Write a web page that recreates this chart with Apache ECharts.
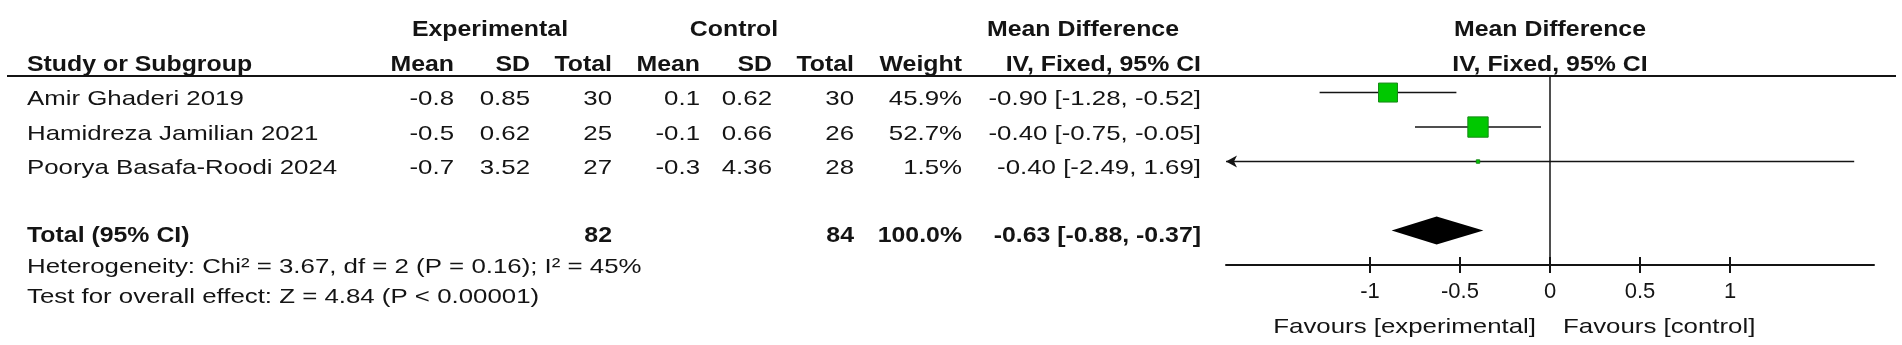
<!DOCTYPE html>
<html>
<head>
<meta charset="utf-8">
<style>
  html, body { margin: 0; padding: 0; background: #fff; }
  #main { width: 1902px; height: 345px; }
</style>
<script src="https://cdn.jsdelivr.net/npm/echarts@6/dist/echarts.min.js"></script>
</head>
<body>
<div id="main"></div>
<script>
// study rows
const studies = ['Amir Ghaderi 2019', 'Hamidreza Jamilian 2021', 'Poorya Basafa-Roodi 2024'];
const expMean = [-0.8, -0.5, -0.7];
const expSD = [0.85, 0.62, 3.52];
const expN = [30, 25, 27];
const ctlMean = [0.1, -0.1, -0.3];
const ctlSD = [0.62, 0.66, 4.36];
const ctlN = [30, 26, 28];
const weight = [45.9, 52.7, 1.5];
const md = [-0.90, -0.40, -0.40];
const ciLow = [-1.28, -0.75, -2.49];
const ciHigh = [-0.52, -0.05, 1.69];

// pooled
const totalExpN = 82;
const totalCtlN = 84;
const totalWeight = 100.0;
const totalMd = -0.63;
const totalLow = -0.88;
const totalHigh = -0.37;

const xTicks = [-1, -0.5, 0, 0.5, 1];
const heterogeneity = 'Heterogeneity: Chi\u00b2 = 3.67, df = 2 (P = 0.16); I\u00b2 = 45%';
const overallEffect = 'Test for overall effect: Z = 4.84 (P < 0.00001)';

const X_MIN = -1.8, X_MAX = 1.8;
const TOTAL_ROW = 4;
const FONT = "'Liberation Sans', Arial, sans-serif";
const INK = '#141414';

let chart = echarts.init(document.getElementById('main'));

function fmtCI(m, lo, hi) {
  return m.toFixed(2) + ' [' + lo.toFixed(2) + ', ' + hi.toFixed(2) + ']';
}

function arrowHead(x, y, dir) {
  return {
    type: 'polygon',
    shape: { points: [[x, y], [x + dir * 11, y - 6], [x + dir * 8, y], [x + dir * 11, y + 6]] },
    style: { fill: INK }
  };
}

function renderStudy(params, api) {
  let lo = api.value(0), hi = api.value(1), m = api.value(2), row = api.value(3), w = api.value(4);
  let left = api.coord([Math.max(lo, X_MIN), row]);
  let right = api.coord([Math.min(hi, X_MAX), row]);
  let c = api.coord([m, row]);
  let s = 2.8 * Math.sqrt(w);
  let children = [
    { type: 'line', shape: { x1: left[0], y1: left[1], x2: right[0], y2: right[1] },
      style: { stroke: INK, lineWidth: 1.5 } },
    { type: 'rect', shape: { x: c[0] - s / 2, y: c[1] - s / 2, width: s, height: s },
      style: { fill: '#00c800', stroke: '#168a16', lineWidth: 1 } }
  ];
  if (lo < X_MIN) children.push(arrowHead(left[0], left[1], 1));
  if (hi > X_MAX) children.push(arrowHead(right[0], right[1], -1));
  return { type: 'group', children: children };
}

function renderDiamond(params, api) {
  let row = api.value(3);
  let l = api.coord([api.value(0), row]);
  let r = api.coord([api.value(1), row]);
  let c = api.coord([api.value(2), row]);
  let h = 14;
  return {
    type: 'polygon',
    shape: { points: [[l[0], l[1]], [c[0], c[1] - h], [r[0], r[1]], [c[0], c[1] + h]] },
    style: { fill: '#000' }
  };
}

let studyData = studies.map((s, i) => [ciLow[i], ciHigh[i], md[i], i, weight[i]]);

chart.setOption({
  animation: false,
  backgroundColor: '#fff',
  grid: { left: 1226, right: 28, top: 76, bottom: 80 },
  xAxis: [
    {
      type: 'value', min: X_MIN, max: X_MAX, position: 'bottom',
      splitLine: { show: false },
      axisLine: { onZero: false, lineStyle: { color: INK, width: 2 } },
      axisTick: { show: true, length: 8, customValues: xTicks, lineStyle: { color: INK, width: 2 } },
      axisLabel: { customValues: xTicks, fontSize: 22, fontFamily: FONT, color: INK, margin: 16 }
    },
    {
      type: 'value', min: X_MIN, max: X_MAX, position: 'bottom',
      splitLine: { show: false },
      axisLine: { show: false, onZero: false },
      axisTick: { show: true, inside: true, length: 8, customValues: xTicks, lineStyle: { color: INK, width: 2 } },
      axisLabel: { show: false }
    }
  ],
  yAxis: {
    type: 'value', min: -0.48, max: 5, inverse: true,
    splitLine: { show: false },
    axisLine: { show: true, onZero: true, lineStyle: { color: INK, width: 1.5 } },
    axisTick: { show: false },
    axisLabel: { show: false }
  },
  series: [
    { type: 'custom', renderItem: renderStudy, data: studyData, encode: { x: [0, 1, 2], y: 3 } },
    { type: 'custom', renderItem: renderDiamond,
      data: [[totalLow, totalHigh, totalMd, TOTAL_ROW]], encode: { x: [0, 1, 2], y: 3 } }
  ]
});

// table text, placed on the same rows as the plot
function txt(str, x, y, align, bold) {
  return {
    type: 'text', x: x, y: y, scaleX: bold ? 1.13 : 1.23, silent: true,
    style: {
      text: str, x: 0, y: 0,
      align: align, textAlign: align, verticalAlign: 'middle', textVerticalAlign: 'middle',
      fontFamily: FONT, fontSize: bold ? 22 : 21, fontWeight: bold ? 'bold' : 'normal',
      fill: INK
    }
  };
}

let x0 = chart.convertToPixel({ xAxisIndex: 0 }, 0);
function rowY(r) { return chart.convertToPixel({ yAxisIndex: 0 }, r) + 7; }

let col = { name: 27, expMean: 454, expSD: 530, expN: 612, ctlMean: 700, ctlSD: 772, ctlN: 854, weight: 962, ci: 1201 };
let g = [];

// headers
g.push(txt('Experimental', 490, 30, 'center', true));
g.push(txt('Control', 734, 30, 'center', true));
g.push(txt('Mean Difference', 1083, 30, 'center', true));
g.push(txt('Mean Difference', x0, 30, 'center', true));
g.push(txt('Study or Subgroup', col.name, 65, 'left', true));
g.push(txt('Mean', col.expMean, 65, 'right', true));
g.push(txt('SD', col.expSD, 65, 'right', true));
g.push(txt('Total', col.expN, 65, 'right', true));
g.push(txt('Mean', col.ctlMean, 65, 'right', true));
g.push(txt('SD', col.ctlSD, 65, 'right', true));
g.push(txt('Total', col.ctlN, 65, 'right', true));
g.push(txt('Weight', col.weight, 65, 'right', true));
g.push(txt('IV, Fixed, 95% CI', col.ci, 65, 'right', true));
g.push(txt('IV, Fixed, 95% CI', x0, 65, 'center', true));
g.push({ type: 'line', silent: true, shape: { x1: 7, y1: 76, x2: 1896, y2: 76 }, style: { stroke: INK, lineWidth: 2 } });

// study rows
studies.forEach((s, i) => {
  let y = rowY(i);
  g.push(txt(s, col.name, y, 'left', false));
  g.push(txt(String(expMean[i]), col.expMean, y, 'right', false));
  g.push(txt(expSD[i].toFixed(2), col.expSD, y, 'right', false));
  g.push(txt(String(expN[i]), col.expN, y, 'right', false));
  g.push(txt(String(ctlMean[i]), col.ctlMean, y, 'right', false));
  g.push(txt(ctlSD[i].toFixed(2), col.ctlSD, y, 'right', false));
  g.push(txt(String(ctlN[i]), col.ctlN, y, 'right', false));
  g.push(txt(weight[i].toFixed(1) + '%', col.weight, y, 'right', false));
  g.push(txt(fmtCI(md[i], ciLow[i], ciHigh[i]), col.ci, y, 'right', false));
});

// total row
let ty = rowY(TOTAL_ROW) - 2;
g.push(txt('Total (95% CI)', col.name, ty, 'left', true));
g.push(txt(String(totalExpN), col.expN, ty, 'right', true));
g.push(txt(String(totalCtlN), col.ctlN, ty, 'right', true));
g.push(txt(totalWeight.toFixed(1) + '%', col.weight, ty, 'right', true));
g.push(txt(fmtCI(totalMd, totalLow, totalHigh), col.ci, ty, 'right', true));
g.push(txt(heterogeneity, col.name, 267, 'left', false));
g.push(txt(overallEffect, col.name, 297, 'left', false));

// favours labels under the axis
g.push(txt('Favours [experimental]', x0 - 14, 327, 'right', false));
g.push(txt('Favours [control]', x0 + 13, 327, 'left', false));

chart.setOption({ graphic: g });
</script>
</body>
</html>
